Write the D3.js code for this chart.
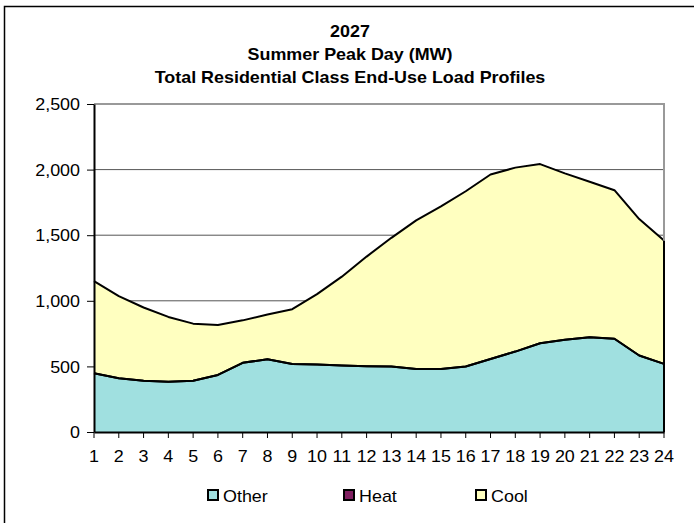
<!DOCTYPE html>
<html>
<head>
<meta charset="utf-8">
<script src="https://cdn.jsdelivr.net/npm/d3@7"></script>
<style>
  body { margin: 0; background: #fff; }
  text { font-family: "Liberation Sans", Arial, sans-serif; fill: #000; }
</style>
</head>
<body>
<div id="chart"></div>
<script>
// hours of the summer peak day
const hours = d3.range(1, 25);
// end-use loads (MW)
const other = [447, 409, 391, 383, 391, 435, 527, 555, 519, 514, 506, 501,
               499, 481, 481, 499, 557, 613, 677, 703, 723, 711, 583, 519];
const heat = new Array(24).fill(0);
const total = [1150, 1035, 949, 877, 826, 815, 851, 895, 936, 1051, 1184, 1337,
               1480, 1613, 1720, 1835, 1963, 2015, 2042, 1971, 1907, 1843, 1623, 1460];
const cool = total.map((t, i) => t - other[i] - heat[i]);
const yTicks = [0, 500, 1000, 1500, 2000, 2500];
const seriesNames = ["Other", "Heat", "Cool"];
const titleLines = ["2027", "Summer Peak Day (MW)", "Total Residential Class End-Use Load Profiles"];

const W = 694, H = 523;
const colors = { Other: "#a0e0e0", Heat: "#802060", Cool: "#ffffc0" };
const sx = 1.12; // text is drawn a bit wide

const svg = d3.select("#chart").append("svg")
    .attr("width", W).attr("height", H);

// outer frame
svg.append("rect")
    .attr("x", 4.5).attr("y", 6.5)
    .attr("width", 720).attr("height", 540)
    .attr("fill", "none").attr("stroke", "#000").attr("stroke-width", 1.5);

const x = d3.scaleLinear().domain([1, 24]).range([94, 664]);
const y = d3.scaleLinear().domain([0, 2500]).range([432, 104]);

// title
svg.selectAll("text.title")
    .data(titleLines)
    .enter().append("text")
    .attr("class", "title")
    .attr("text-anchor", "middle")
    .attr("font-weight", "bold")
    .attr("font-size", 16)
    .attr("transform", (d, i) => `translate(350,${37 + i * 23}) scale(${sx},1)`)
    .text(d => d);

// gridlines
svg.append("g")
    .selectAll("line")
    .data(yTicks.slice(1, -1))
    .enter().append("line")
    .attr("x1", x(1)).attr("x2", x(24))
    .attr("y1", d => y(d)).attr("y2", d => y(d))
    .attr("stroke", "#555").attr("stroke-width", 1);

// stacked areas
const rows = hours.map((h, i) => ({ hour: h, Other: other[i], Heat: heat[i], Cool: cool[i] }));
const stack = d3.stack().keys(seriesNames)(rows);

const area = d3.area()
    .x(d => x(d.data.hour))
    .y0(d => y(d[0]))
    .y1(d => y(d[1]));
const topLine = d3.line()
    .x(d => x(d.data.hour))
    .y(d => y(d[1]));

svg.append("g").selectAll("path")
    .data(stack)
    .enter().append("path")
    .attr("d", area)
    .attr("fill", d => colors[d.key]);

svg.append("g").selectAll("path")
    .data(stack)
    .enter().append("path")
    .attr("d", topLine)
    .attr("fill", "none")
    .attr("stroke", "#000")
    .attr("stroke-width", 2)
    .attr("stroke-linejoin", "round");

// right edge of area
svg.append("line")
    .attr("x1", x(24)).attr("x2", x(24))
    .attr("y1", y(0)).attr("y2", y(total[23]))
    .attr("stroke", "#000").attr("stroke-width", 2);

// plot frame: top and right in grey
svg.append("path")
    .attr("d", `M${x(1)},${y(2500)}H${x(24)}V${y(total[23])}`)
    .attr("fill", "none").attr("stroke", "#999").attr("stroke-width", 2);

// y axis
const yAxis = svg.append("g")
    .attr("transform", `translate(${x(1)},0)`)
    .call(d3.axisLeft(y).tickValues(yTicks).tickSize(7).tickSizeOuter(0).tickFormat(d3.format(",")));
yAxis.select(".domain").attr("stroke", "#000").attr("stroke-width", 2);
yAxis.selectAll(".tick line").attr("stroke", "#000");
yAxis.selectAll("text")
    .attr("font-size", 16)
    .attr("x", -14 / sx)
    .attr("dy", "0.35em")
    .attr("transform", `scale(${sx},1)`)
    .style("font-family", "Liberation Sans, Arial, sans-serif");

// x axis
const xAxis = svg.append("g")
    .attr("transform", `translate(0,${y(0)})`)
    .call(d3.axisBottom(x).tickValues(hours).tickSize(6).tickSizeOuter(0).tickFormat(d3.format("d")));
xAxis.select(".domain").attr("stroke", "#000").attr("stroke-width", 2);
xAxis.selectAll(".tick line").attr("stroke", "#000");
xAxis.selectAll("text")
    .attr("font-size", 16)
    .attr("y", 19)
    .attr("dy", "0.71em")
    .attr("transform", `scale(${sx},1)`)
    .style("font-family", "Liberation Sans, Arial, sans-serif");
xAxis.selectAll(".tick").attr("transform", d => `translate(${x(d)},0)`);

// legend
const legendX = [207, 343, 475];
const legend = svg.append("g").selectAll("g")
    .data(seriesNames)
    .enter().append("g")
    .attr("transform", (d, i) => `translate(${legendX[i]},489)`);
legend.append("rect")
    .attr("x", 1).attr("y", 1)
    .attr("width", 10).attr("height", 10)
    .attr("fill", d => colors[d])
    .attr("stroke", "#000").attr("stroke-width", 2);
legend.append("text")
    .attr("font-size", 16)
    .attr("transform", `translate(16,13) scale(${sx},1)`)
    .text(d => d);
</script>
</body>
</html>
